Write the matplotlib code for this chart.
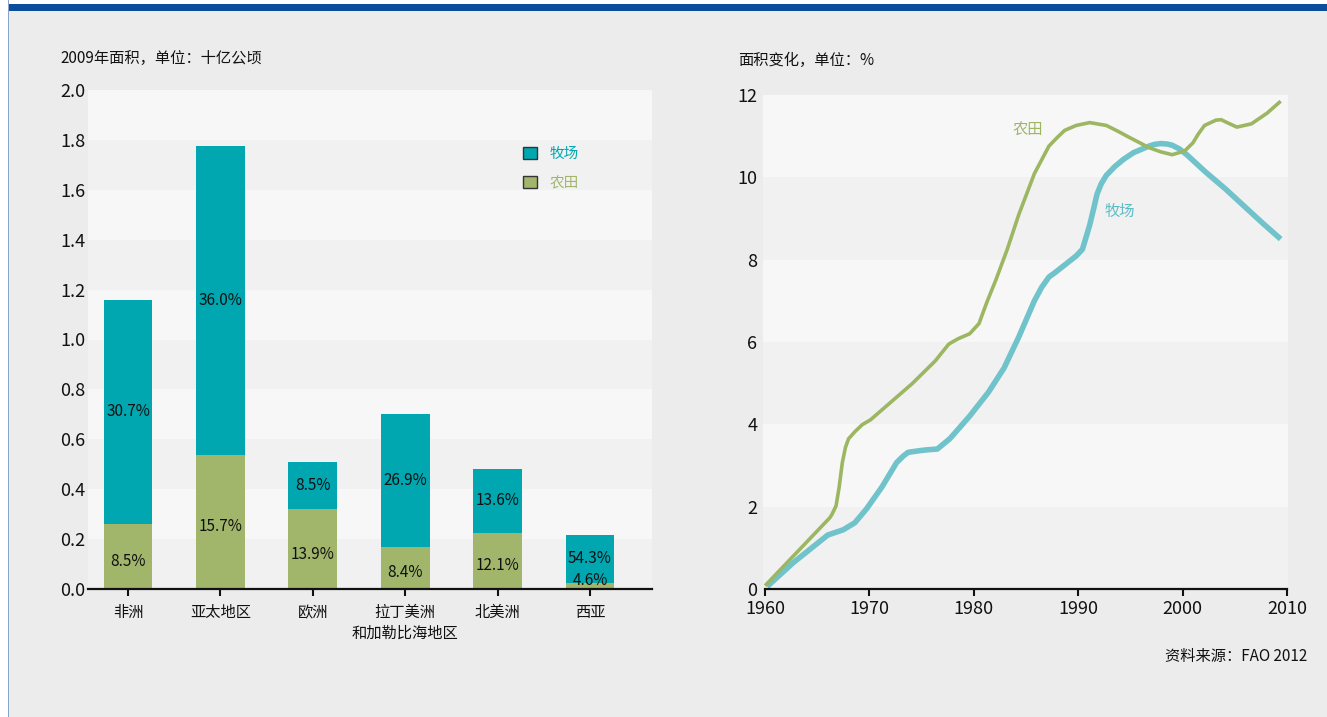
import matplotlib
matplotlib.use("Agg")
import matplotlib.pyplot as plt
from matplotlib.patches import Rectangle, Patch
import numpy as np

plt.rcParams['font.family'] = ['Noto Sans CJK SC', 'DejaVu Sans']

# ---------------- data ----------------
regions = ['非洲', '亚太地区', '欧洲', '拉丁美洲\n和加勒比海地区', '北美洲', '西亚']
cropland = [0.26, 0.538, 0.32, 0.169, 0.225, 0.024]          # 十亿公顷
pasture = [0.90, 1.237, 0.19, 0.534, 0.257, 0.193]          # 十亿公顷
pasture_pct = ['30.7%', '36.0%', '8.5%', '26.9%', '13.6%', '54.3%']
crop_pct = ['8.5%', '15.7%', '13.9%', '8.4%', '12.1%', '4.6%']
left_yticks = [0.0, 0.2, 0.4, 0.6, 0.8, 1.0, 1.2, 1.4, 1.6, 1.8, 2.0]

crop_years = [1960.0, 1966.2, 1966.4, 1966.8, 1967.1, 1967.4, 1967.7, 1968.0, 1968.6,
              1969.3, 1970.1, 1974.1, 1976.3, 1977.6, 1978.5, 1979.6, 1980.5, 1980.8,
              1981.3, 1982.1, 1983.2, 1984.3, 1985.8, 1987.2, 1988.0, 1988.7, 1989.8,
              1991.1, 1992.7, 1993.8, 1994.9, 1996.8, 1997.9, 1999.0, 2000.2, 2001.0,
              2001.5, 2002.1, 2003.2, 2003.7, 2004.1, 2005.2, 2006.6, 2008.1, 2009.4]
crop_change = [0.08, 1.73, 1.81, 2.02, 2.48, 3.07, 3.44, 3.65, 3.82,
               3.99, 4.11, 4.99, 5.54, 5.95, 6.08, 6.20, 6.45, 6.66,
               7.00, 7.50, 8.25, 9.09, 10.09, 10.76, 10.97, 11.14, 11.26,
               11.33, 11.26, 11.12, 10.97, 10.72, 10.62, 10.55, 10.64, 10.84,
               11.05, 11.26, 11.39, 11.40, 11.35, 11.22, 11.30, 11.56, 11.85]

past_years = [1960.2, 1962.7, 1966.0, 1967.5, 1968.6, 1969.7, 1971.2, 1972.6, 1973.2,
              1973.7, 1974.8, 1975.5, 1976.5, 1977.7, 1979.6, 1981.4, 1982.9, 1984.3,
              1985.8, 1986.5, 1987.2, 1987.8, 1988.3, 1989.8, 1990.4, 1990.7, 1991.1,
              1991.5, 1991.8, 1992.2, 1992.7, 1993.5, 1994.3, 1995.3, 1996.8, 1997.3,
              1997.9, 1998.5, 1999.0, 1999.7, 2000.4, 2001.3, 2002.2, 2004.1, 2005.9,
              2007.7, 2009.4]
past_change = [0.06, 0.64, 1.31, 1.44, 1.61, 1.94, 2.48, 3.07, 3.22,
               3.32, 3.36, 3.38, 3.40, 3.65, 4.20, 4.78, 5.37, 6.12,
               7.00, 7.33, 7.58, 7.69, 7.79, 8.09, 8.25, 8.50, 8.84,
               9.26, 9.59, 9.84, 10.05, 10.26, 10.43, 10.60, 10.76, 10.80,
               10.82, 10.81, 10.78, 10.69, 10.55, 10.34, 10.13, 9.72, 9.30,
               8.88, 8.50]
right_xticks = [1960, 1970, 1980, 1990, 2000, 2010]
right_yticks = [0, 2, 4, 6, 8, 10, 12]

# ---------------- style ----------------
W, H = 1327, 717
FIG_BG = '#ececec'
BAND_DARK = '#f1f1f1'
BAND_LIGHT = '#f7f7f7'
C_PAST = '#00a6b0'
C_CROP = '#a1b56b'
L_PAST = '#70c3ca'
L_CROP = '#9db662'

fig = plt.figure(figsize=(W / 100, H / 100), dpi=100, facecolor=FIG_BG)

# frame decorations
fig.patches.append(Rectangle((0, 1 - 4 / H), 1, 4 / H, transform=fig.transFigure,
                             facecolor='white', edgecolor='none', zorder=0))
fig.patches.append(Rectangle((0, 0), 8 / W, 1, transform=fig.transFigure,
                             facecolor='white', edgecolor='none', zorder=0))
fig.patches.append(Rectangle((8 / W, 1 - 11 / H), 1 - 8 / W, 7 / H, transform=fig.transFigure,
                             facecolor='#0b4f9c', edgecolor='none', zorder=1))
fig.patches.append(Rectangle((8 / W, 0), 1.2 / W, 1, transform=fig.transFigure,
                             facecolor='#8aa3c8', edgecolor='none', zorder=1))


def px_axes(l, r, t, b):
    return fig.add_axes([l / W, 1 - b / H, (r - l) / W, (b - t) / H])


# ---------------- left chart ----------------
ax = px_axes(88, 652, 90, 589)
ax.set_facecolor(BAND_DARK)
for i, lo in enumerate(left_yticks[:-1]):
    if i % 2 == 1:
        ax.axhspan(lo, left_yticks[i + 1], color=BAND_LIGHT, zorder=0, lw=0)

x = np.arange(len(regions))
bw = 0.53
ax.bar(x, cropland, bw, color=C_CROP, zorder=2, lw=0)
ax.bar(x, pasture, bw, bottom=cropland, color=C_PAST, zorder=2, lw=0)

for xi, c, p, cp, pp in zip(x, cropland, pasture, crop_pct, pasture_pct):
    ax.text(xi, c + p / 2, pp, ha='center', va='center', fontsize=11, color='#111111', zorder=3)
    ax.text(xi, max(c / 2 - 0.02, 0.036), cp, ha='center', va='center', fontsize=11,
            color='#111111', zorder=3)

ax.set_xlim(-0.433, 5.671)
ax.set_ylim(0, 2.0)
ax.set_yticks(left_yticks)
ax.set_yticklabels([f'{v:.1f}' for v in left_yticks])
ax.set_xticks(x)
ax.set_xticklabels(regions, fontsize=11, linespacing=1.3)
ax.tick_params(axis='y', length=0, pad=2, labelsize=13, colors='#111111')
ax.tick_params(axis='x', length=5, width=1.5, pad=6, colors='#111111', direction='out')
for s in ['top', 'right', 'left']:
    ax.spines[s].set_visible(False)
ax.spines['bottom'].set_linewidth(1.6)
ax.spines['bottom'].set_color('#111111')
ax.spines['bottom'].set_zorder(4)

handles = [Patch(facecolor=C_PAST, edgecolor='#333333', lw=1.0),
           Patch(facecolor=C_CROP, edgecolor='#333333', lw=1.0)]
leg = ax.legend(handles, ['牧场', '农田'], loc='upper left', bbox_to_anchor=(0.771, 0.886),
                frameon=False, fontsize=10.5, handlelength=0.95, handleheight=0.95,
                handletextpad=0.85, labelspacing=1.0, borderpad=0, borderaxespad=0)
for t, col in zip(leg.get_texts(), [C_PAST, C_CROP]):
    t.set_color(col)

fig.text(60 / W, 1 - 58 / H, '2009年面积，单位：十亿公顷', fontsize=11, color='#111111',
         ha='left', va='center')

# ---------------- right chart ----------------
ax2 = px_axes(763, 1288, 95, 589)
ax2.set_facecolor(BAND_DARK)
for i, lo in enumerate(right_yticks[:-1]):
    if i % 2 == 1:
        ax2.axhspan(lo, right_yticks[i + 1], color=BAND_LIGHT, zorder=0, lw=0)

ax2.plot(past_years, past_change, color=L_PAST, lw=4.0, solid_capstyle='butt',
         solid_joinstyle='round', zorder=2)
ax2.plot(crop_years, crop_change, color=L_CROP, lw=2.6, solid_capstyle='butt',
         solid_joinstyle='round', zorder=3)

ax2.text(1985.2, 11.15, '农田', color=L_CROP, fontsize=11, ha='center', va='center')
ax2.text(1994.0, 9.18, '牧场', color='#5bbcc4', fontsize=11, ha='center', va='center')

ax2.set_xlim(1959.8, 2010.1)
ax2.set_ylim(0, 12)
ax2.set_xticks(right_xticks)
ax2.set_yticks(right_yticks)
ax2.tick_params(axis='y', length=0, pad=4, labelsize=13, colors='#111111')
ax2.tick_params(axis='x', length=5, width=1.5, pad=3, labelsize=13, colors='#111111',
                direction='out')
for s in ['top', 'right', 'left']:
    ax2.spines[s].set_visible(False)
ax2.spines['bottom'].set_bounds(1960, 2010)
ax2.spines['bottom'].set_linewidth(1.6)
ax2.spines['bottom'].set_color('#111111')

fig.text(738 / W, 1 - 60 / H, '面积变化，单位：%', fontsize=11, color='#111111',
         ha='left', va='center')
fig.text(1307 / W, 1 - 656 / H, '资料来源：FAO 2012', fontsize=11, color='#111111',
         ha='right', va='center')

fig.savefig('out.png', dpi=100, facecolor=FIG_BG)
